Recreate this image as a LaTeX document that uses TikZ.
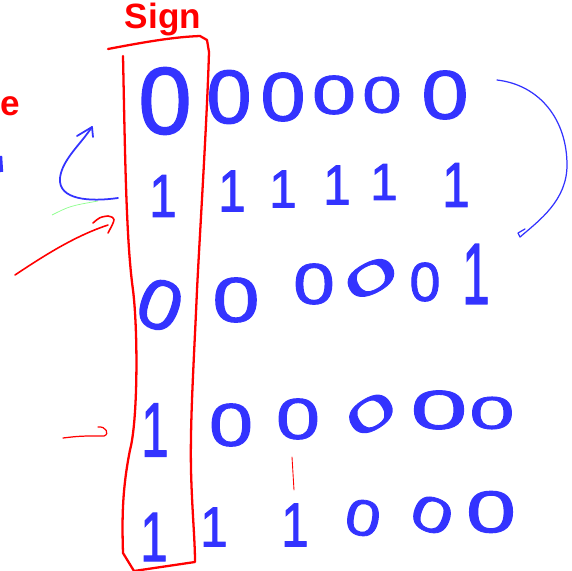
\documentclass[tikz,border=0pt]{standalone}
\usepackage{fontspec}
\setmainfont{Liberation Sans}
\newfontfamily\bitfont{Liberation Sans}[FakeBold=1.6]
\usepackage{tikz}
\definecolor{ink}{RGB}{51,51,255}
\definecolor{pen}{RGB}{255,0,0}

\begin{document}
\begin{tikzpicture}[x=0.02cm, y=-0.02cm,
    bit/.style={text=ink, inner sep=0pt, transform shape, font=\bitfont\fontsize{40}{40}\selectfont},
    redpen/.style={draw=pen, line width=1.3pt, line cap=round, line join=round},
    bluepen/.style={draw=ink, line width=1pt, line cap=round, line join=round}]
    	\useasboundingbox (0,0) rectangle (572,571);
    	% Sign column:
    	\node[text=pen, font=\fontsize{20}{20}\selectfont\bfseries] (sign) at (163,19) {Sign};
    	\draw[redpen] (108,49) .. controls (150,41) and (175,37) .. (200,36) -- (207,40) -- (209,52)
    	    .. controls (207,120) and (200,230) .. (197,290) .. controls (194,360) and (190,420) .. (191,470)
    	    .. controls (192,510) and (195,540) .. (195,562) -- (134,571);
    	\draw[redpen] (123,56) .. controls (125,150) and (126,240) .. (133,290) .. controls (138,330) and (138,420) .. (130,450)
    	    .. controls (122,490) and (122,520) .. (123,553) -- (134,571);
    	% Bits:
    	\node[bit, xscale=1.36, yscale=1.35] (b10) at (165,101) {0};
    	\node[bit, xscale=1.15, yscale=1.08] (b11) at (229,97) {0};
    	\node[bit, xscale=1.15, yscale=0.98] (b12) at (283,97) {0};
    	\node[bit, xscale=1.12, yscale=0.78] (b13) at (334,95) {0};
    	\node[bit, xscale=1.0, yscale=0.73] (b14) at (382,95) {0};
    	\node[bit, xscale=1.2, yscale=0.98] (b15) at (445,95) {0};
    	\node[bit, xscale=0.7, yscale=0.86] (b20) at (163,196) {1};
    	\node[bit, xscale=0.7, yscale=0.84] (b21) at (232,191) {1};
    	\node[bit, xscale=0.7, yscale=0.76] (b22) at (283,189) {1};
    	\node[bit, xscale=0.7, yscale=0.8] (b23) at (337,185) {1};
    	\node[bit, xscale=0.7, yscale=0.74] (b24) at (384,182) {1};
    	\node[bit, xscale=0.7, yscale=0.9] (b25) at (456,185) {1};
    	\node[bit, rotate=-20, xscale=1.1, yscale=1.0] (b30) at (160,305) {0};
    	\node[bit, xscale=1.2, yscale=0.9] (b31) at (236,300) {0};
    	\node[bit, xscale=1.06, yscale=0.82] (b32) at (314,284) {0};
    	\node[bit, rotate=28, xscale=1.4, yscale=0.62] (b33) at (371,278) {0};
    	\node[bit, xscale=0.79, yscale=0.78] (b34) at (425,282) {0};
    	\node[bit, xscale=0.7, yscale=1.24] (b35) at (476,274) {1};
    	\node[bit, xscale=0.7, yscale=1.1] (b40) at (155,430) {1};
    	\node[bit, xscale=1.12, yscale=0.86] (b41) at (231,425) {0};
    	\node[bit, xscale=1.12, yscale=0.82] (b42) at (298,419) {0};
    	\node[bit, rotate=32, xscale=1.3, yscale=0.64] (b43) at (371,414) {0};
    	\node[bit, xscale=1.45, yscale=0.78] (b44) at (439,410) {0};
    	\node[bit, xscale=1.15, yscale=0.65] (b45) at (492,413) {0};
    	\node[bit, xscale=0.7, yscale=1.0] (b50) at (154,537) {1};
    	\node[bit, xscale=0.7, yscale=0.8] (b51) at (214,527) {1};
    	\node[bit, xscale=0.7, yscale=0.88] (b52) at (295,525) {1};
    	\node[bit, rotate=-10, xscale=0.9, yscale=0.72] (b53) at (363,518) {0};
    	\node[bit, rotate=-20, xscale=1.06, yscale=0.7] (b54) at (432,515) {0};
    	\node[bit, xscale=1.27, yscale=0.84] (b55) at (491,512) {0};
    	% Marks on the left:
    	\node[text=pen, font=\fontsize{20}{20}\selectfont\bfseries] (mark) at (10,106) {e};
    	\draw[draw=ink, line width=2.5pt] (0,156) -- (1,172);
    	\coordinate (loopstart) at (118,198);
    	\coordinate (looptip) at (92,127);
    	\draw[bluepen] (loopstart) .. controls (90,202) and (58,200) .. (60,178) .. controls (62,160) and (80,145) .. (looptip);
    	\draw[bluepen] (77,136) -- (looptip) -- (93,137);
    	\draw[draw=green!45, line width=0.4pt] (52,215) .. controls (70,206) .. (98,201);
    	\coordinate (redstart) at (15,275);
    	\coordinate (redtip) at (108,225);
    	\draw[redpen, line width=0.9pt] (redstart) .. controls (45,255) and (75,236) .. (redtip);
    	\draw[redpen, line width=0.9pt] (93,223) .. controls (100,217) .. (108,216) .. controls (116,218) .. (108,233);
    	\draw[redpen, line width=0.7pt] (63,438) .. controls (80,436) .. (104,436) .. controls (110,434) and (106,426) .. (98,427);
    	\draw[redpen, line width=0.5pt] (292,457) -- (294,490);
    	% Wrap-around arc:
    	\coordinate (arcstart) at (497,80);
    	\coordinate (arcend) at (520,237);
    	\draw[bluepen, line width=0.7pt] (arcstart) .. controls (540,85) and (567,120) .. (567,165) .. controls (567,200) and (540,220) .. (arcend);
    	\draw[bluepen, line width=0.7pt] (arcend) -- (518,233) -- (525,229);
    \end{tikzpicture}
\end{document}
